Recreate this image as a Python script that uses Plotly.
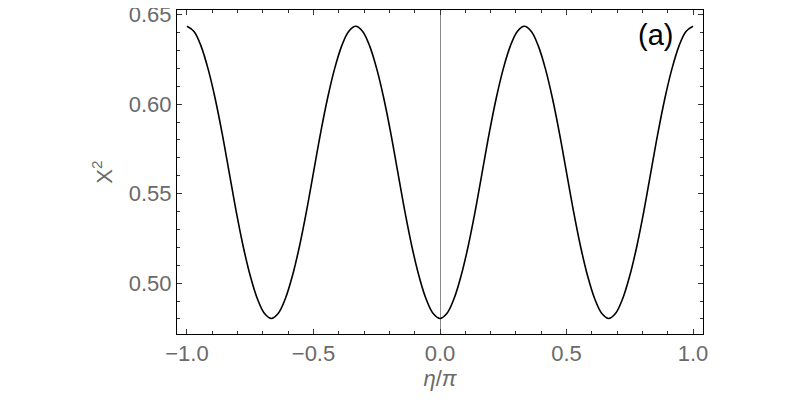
import plotly.graph_objects as go

# eta/pi sample positions, step 1/36
eta = [
    -1.0, -0.9722, -0.9444, -0.9167, -0.8889, -0.8611, -0.8333, -0.8056,
    -0.7778, -0.75, -0.7222, -0.6944, -0.6667, -0.6389, -0.6111, -0.5833,
    -0.5556, -0.5278, -0.5, -0.4722, -0.4444, -0.4167, -0.3889, -0.3611,
    -0.3333, -0.3056, -0.2778, -0.25, -0.2222, -0.1944, -0.1667, -0.1389,
    -0.1111, -0.0833, -0.0556, -0.0278, 0.0, 0.0278, 0.0556, 0.0833,
    0.1111, 0.1389, 0.1667, 0.1944, 0.2222, 0.25, 0.2778, 0.3056,
    0.3333, 0.3611, 0.3889, 0.4167, 0.4444, 0.4722, 0.5, 0.5278,
    0.5556, 0.5833, 0.6111, 0.6389, 0.6667, 0.6944, 0.7222, 0.75,
    0.7778, 0.8056, 0.8333, 0.8611, 0.8889, 0.9167, 0.9444, 0.9722, 1.0,
]

# X^2 values
chi2 = [
    0.6435, 0.6406, 0.6324, 0.6197, 0.6033, 0.5837, 0.5619, 0.5401,
    0.5205, 0.5041, 0.4914, 0.4832, 0.4803, 0.4832, 0.4914, 0.5041,
    0.5205, 0.5401, 0.5619, 0.5837, 0.6033, 0.6197, 0.6324, 0.6406,
    0.6435, 0.6406, 0.6324, 0.6197, 0.6033, 0.5837, 0.5619, 0.5401,
    0.5205, 0.5041, 0.4914, 0.4832, 0.4803, 0.4832, 0.4914, 0.5041,
    0.5205, 0.5401, 0.5619, 0.5837, 0.6033, 0.6197, 0.6324, 0.6406,
    0.6435, 0.6406, 0.6324, 0.6197, 0.6033, 0.5837, 0.5619, 0.5401,
    0.5205, 0.5041, 0.4914, 0.4832, 0.4803, 0.4832, 0.4914, 0.5041,
    0.5205, 0.5401, 0.5619, 0.5837, 0.6033, 0.6197, 0.6324, 0.6406, 0.6435,
]

FONT = "Liberation Sans, Arial, sans-serif"
TICK_GRAY = "#6a6a6a"

fig = go.Figure()
fig.add_trace(go.Scatter(
    x=eta, y=chi2,
    mode="lines",
    line=dict(color="black", width=1.6, shape="spline", smoothing=1.0),
    showlegend=False,
))

axis_common = dict(
    automargin=False,
    showgrid=False,
    showline=True,
    linecolor="black",
    linewidth=1,
    mirror="allticks",
    ticks="inside",
    tickcolor="#333333",
    tickwidth=1,
    ticklabeloverflow="allow",
    tickfont=dict(family=FONT, size=22, color=TICK_GRAY),
)

# the page body adds an 8px offset, so margins are shifted to compensate
fig.update_layout(
    width=800, height=400,
    paper_bgcolor="white",
    plot_bgcolor="white",
    margin=dict(l=169, r=105, t=2, b=74),
    font=dict(family=FONT, color=TICK_GRAY),
    xaxis=dict(
        **axis_common,
        range=[-1.0395, 1.0395],
        tick0=0, dtick=0.5, tickformat=".1f", ticklen=5,
        minor=dict(dtick=0.1, ticks="inside", ticklen=3, tickcolor="#333333"),
        zeroline=True, zerolinecolor="#8a8a8a", zerolinewidth=1,
        title=dict(text="<i>η</i>/<i>π</i>", font=dict(family=FONT, size=22, color=TICK_GRAY), standoff=4),
    ),
    yaxis=dict(
        **axis_common,
        range=[0.4716, 0.6526],
        tick0=0.5, dtick=0.05, tickformat=".2f", ticklen=5,
        minor=dict(dtick=0.01, ticks="inside", ticklen=3, tickcolor="#333333"),
        zeroline=False,
        title=dict(text="X<sup>2</sup>", font=dict(family=FONT, size=22, color=TICK_GRAY), standoff=10),
    ),
    annotations=[
        dict(
            text="(a)", xref="paper", yref="paper",
            x=0.909, y=0.923, xanchor="center", yanchor="middle",
            showarrow=False,
            font=dict(family=FONT, size=29, color="black"),
        ),
    ],
)

fig.write_html("out.html")
